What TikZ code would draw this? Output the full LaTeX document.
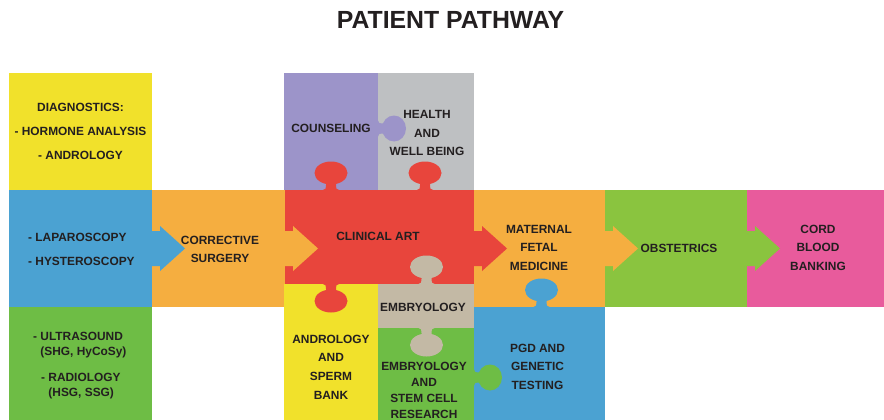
\documentclass[tikz,border=0pt]{standalone}
\usepackage{fontspec}
\setmainfont{Liberation Sans}
\definecolor{cYellow}{HTML}{F1E12B}
\definecolor{cBlue}{HTML}{4BA2D2}
\definecolor{cGreen}{HTML}{6EBD45}
\definecolor{cOrange}{HTML}{F5AE40}
\definecolor{cPurple}{HTML}{9C94C9}
\definecolor{cGrey}{HTML}{BEC0C2}
\definecolor{cRed}{HTML}{E8453C}
\definecolor{cTan}{HTML}{C3B9A5}
\definecolor{cGreenB}{HTML}{8AC43F}
\definecolor{cPink}{HTML}{E85B9C}
\definecolor{cText}{HTML}{231F20}
% vertical knob: color, centre x, base y, sign (-1 up, +1 down)
\newcommand\knobV[4]{%
  \fill[#1] ({#2-8},#3) .. controls ({#2-5},#3) and ({#2-5},{#3+2*#4}) .. ({#2-5},{#3+5*#4})
     -- ({#2-5},{#3+12*#4}) -- ({#2+5},{#3+12*#4}) -- ({#2+5},{#3+5*#4})
     .. controls ({#2+5},{#3+2*#4}) and ({#2+5},#3) .. ({#2+8},#3) -- cycle;
  \fill[#1] (#2,{#3+17*#4}) ellipse [x radius=16.5pt, y radius=11.5pt];}
% horizontal knob: color, base x, centre y, sign (+1 right)
\newcommand\knobH[4]{%
  \fill[#1] (#2,{#3-8}) .. controls (#2,{#3-5}) and ({#2+2*#4},{#3-5}) .. ({#2+5*#4},{#3-5})
     -- ({#2+11*#4},{#3-5}) -- ({#2+11*#4},{#3+5}) -- ({#2+5*#4},{#3+5})
     .. controls ({#2+2*#4},{#3+5}) and (#2,{#3+5}) .. (#2,{#3+8}) -- cycle;
  \fill[#1] ({#2+16*#4},#3) ellipse [x radius=12pt, y radius=13pt];}
% arrow out of a tile edge: color, edge x
\newcommand\tilearrow[2]{%
  \fill[#1] (#2,231) -- ({#2+8},231) -- ({#2+8},226) -- ({#2+33},248.5)
     -- ({#2+8},271) -- ({#2+8},266) -- (#2,266) -- cycle;}
\tikzset{
  lbl/.style={font=\fontsize{11.9}{#1}\selectfont\bfseries, text=cText, align=center, inner sep=0pt},
  lbl/.default=18.5,
  lblL/.style={lbl=#1, align=left, anchor=west},
  ttl/.style={font=\fontsize{24.8}{28}\selectfont\bfseries, text=cText, inner sep=0pt}
}
\begin{document}
\begin{tikzpicture}[x=1pt,y=-1pt]
\useasboundingbox (0,0) rectangle (884,420);
\fill[white] (0,0) rectangle (884,420);
% tiles
\fill[cYellow] (9,73) rectangle (152,190);
\fill[cBlue] (9,190) rectangle (152,307);
\fill[cGreen] (9,307) rectangle (152,420);
\fill[cOrange] (152,190) rectangle (285,307);
\fill[cPurple] (284,73) rectangle (378,190);
\fill[cGrey] (378,73) rectangle (474,190);
\fill[cRed] (285,190) rectangle (474,284);
\fill[cOrange] (474,190) rectangle (605,307);
\fill[cYellow] (284,284) rectangle (378,420);
\fill[cTan] (378,284) rectangle (474,328);
\fill[cGreen] (378,328) rectangle (474,420);
\fill[cBlue] (474,307) rectangle (605,420);
\fill[cGreenB] (605,190) rectangle (747,307);
\fill[cPink] (747,190) rectangle (884,307);
% puzzle knobs
\knobV{cRed}{331}{190}{-1}
\knobV{cRed}{425}{190}{-1}
\knobH{cPurple}{378}{128.5}{1}
\knobV{cRed}{331}{284}{1}
\knobV{cTan}{426.5}{284}{-1}
\knobV{cTan}{426.5}{328}{1}
\knobH{cGreen}{474}{377.5}{1}
\knobV{cBlue}{541.5}{307}{-1}
% arrows
\tilearrow{cBlue}{152}
\tilearrow{cOrange}{285}
\tilearrow{cRed}{474}
\tilearrow{cOrange}{605}
\tilearrow{cGreenB}{747}
% texts
\node[ttl] (title) at (450.5,20) {PATIENT PATHWAY};
\node[lbl=24] (diag) at (80.5,131) {DIAGNOSTICS:\\- HORMONE ANALYSIS\\- ANDROLOGY};
\node[lblL=24] (lap) at (28,249) {- LAPAROSCOPY\\- HYSTEROSCOPY};
\node[lblL=15] (us) at (33,345.5) {- ULTRASOUND\\\phantom{- }(SHG, HyCoSy)};
\node[lblL=14.5] (rad) at (41,386) {- RADIOLOGY\\\phantom{- }(HSG, SSG)};
\node[lbl=18] (corr) at (220,249) {CORRECTIVE\\SURGERY};
\node[lbl] (couns) at (331,128) {COUNSELING};
\node[lbl] (health) at (427,133) {HEALTH\\AND\\WELL BEING};
\node[lbl] (clin) at (378,236) {CLINICAL ART};
\node[lbl=18.7] (andro) at (331,367) {ANDROLOGY\\AND\\SPERM\\BANK};
\node[lbl] (embryo) at (423,307) {EMBRYOLOGY};
\node[lbl=16] (stem) at (424,390) {EMBRYOLOGY\\AND\\STEM CELL\\RESEARCH};
\node[lbl] (mfm) at (539,247.5) {MATERNAL\\FETAL\\MEDICINE};
\node[lbl] (obst) at (679,248) {OBSTETRICS};
\node[lbl] (cord) at (818,247.5) {CORD\\BLOOD\\BANKING};
\node[lbl] (pgd) at (537.5,366.5) {PGD AND\\GENETIC\\TESTING};
\end{tikzpicture}
\end{document}
